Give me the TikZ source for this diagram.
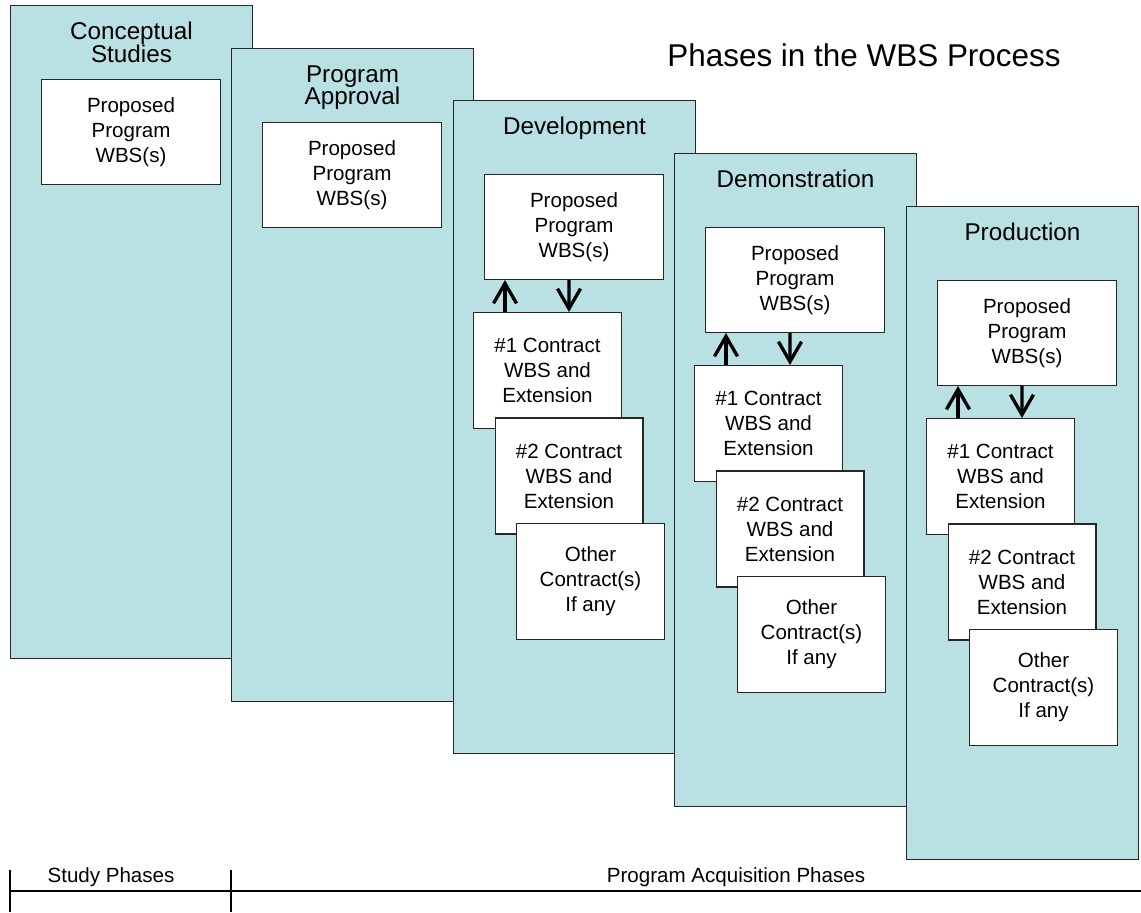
\documentclass[tikz,border=0pt]{standalone}
\usepackage{fontspec}
\setmainfont{Liberation Sans}
\usetikzlibrary{positioning,arrows.meta}

\definecolor{phasefill}{RGB}{185,224,226}
\tikzstyle{every node}+=[inner sep=0mm,align=center]
\tikzstyle{phase}=[draw=black!85,fill=phasefill,line width=0.6pt,anchor=north west,minimum width=4.84cm,minimum height=13.06cm]
\tikzstyle{phasename}=[font=\fontsize{13.8}{13}\selectfont]
\tikzstyle{wbsbox}=[draw=black!85,fill=white,line width=0.6pt,anchor=north west,minimum width=3.58cm,minimum height=2.1cm,font=\fontsize{11.7}{14.2}\selectfont]
\tikzstyle{contract}=[wbsbox,minimum width=2.96cm,minimum height=2.32cm]
\tikzstyle{feed}=[line width=1.9pt,-{Straight Barb[length=0.4cm,width=0.46cm]}]
\tikzstyle{band}=[line width=0.8pt]
\tikzstyle{bandname}=[anchor=base,font=\fontsize{11.7}{14}\selectfont]

% one phase column: [width]{name}{x}{y}{title}
\newcommand{\wbsphase}[5][4.84cm]{
	\node[phase,minimum width=#1] (#2) at (#3,#4) {};
	\node[phasename,below=0.34cm of #2.north] (#2name) {#5};
	\node[wbsbox] (#2prop) at ([shift={(0.62cm,-1.48cm)}]#2.north west) {Proposed\\Program\\WBS(s)};
}

% stacked contract boxes under the program wbs
\newcommand{\wbscontracts}[1]{
	\node[contract] (#1one) at ([shift={(-0.22cm,-0.64cm)}]#1prop.south west) {\#1 Contract\\WBS and\\Extension};
	\node[contract] (#1two) at ([shift={(0.43cm,-2.11cm)}]#1one.north west) {\#2 Contract\\WBS and\\Extension};
	\node[contract] (#1other) at ([shift={(0.43cm,-2.11cm)}]#1two.north west) {Other\\Contract(s)\\If any};
	\draw[feed] ([xshift=0.64cm]#1one.north west) -- ([xshift=0.42cm]#1prop.south west);
	\draw[feed] ([xshift=1.7cm]#1prop.south west) -- ([xshift=1.92cm]#1one.north west);
}

\begin{document}
\begin{tikzpicture}[x=0.02cm,y=-0.02cm]
\useasboundingbox (0,0) rectangle (1141,912);

\wbsphase{study}{10}{5}{Conceptual\\Studies}
\wbsphase{approval}{231}{48}{Program\\Approval}
\wbsphase{dev}{453}{100}{Development}
\wbscontracts{dev}
\wbsphase{demo}{674}{153}{Demonstration}
\wbscontracts{demo}
\wbsphase[4.64cm]{prod}{906}{206}{Production}
\wbscontracts{prod}

\node[font=\fontsize{17.9}{20}\selectfont] (heading) at (864,55) {Phases in the WBS Process};

% study / acquisition bands
\coordinate (bandL) at (10,891);
\coordinate (bandM) at (231,891);
\coordinate (bandR) at (1141,891);
\draw[band] (bandL) -- (bandR);
\draw[band] (bandL) ++(0,-21) -- (10,912);
\draw[band] (bandM) ++(0,-21) -- (231,912);
\node[bandname] (studyband) at (111,882) {Study Phases};
\node[bandname] (acqband) at (736,882) {Program Acquisition Phases};

\end{tikzpicture}
\end{document}
